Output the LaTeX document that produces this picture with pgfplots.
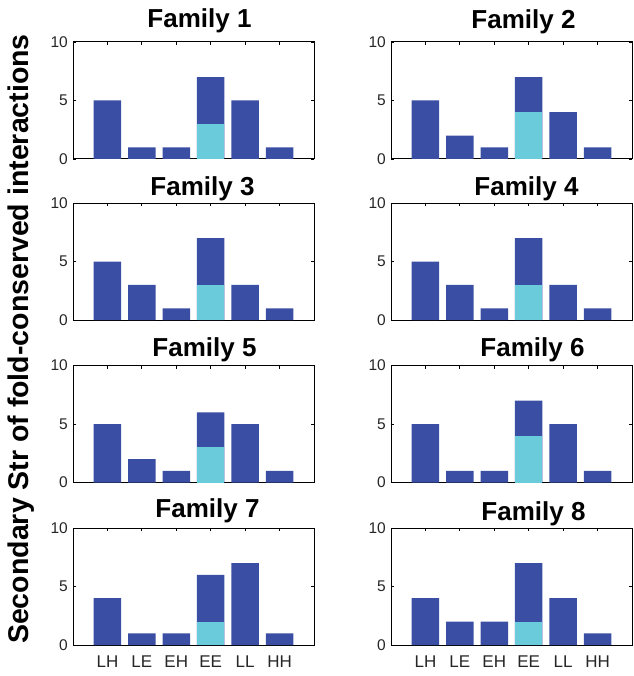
\documentclass[border=0pt]{standalone}
\usepackage{pgfplots}
\pgfplotsset{compat=1.18}
\usepackage{fontspec}
\setmainfont{Liberation Sans}
\definecolor{barblue}{RGB}{58,79,163}
\definecolor{barcyan}{RGB}{106,203,218}
\pgfplotsset{
 famaxis/.style={
  scale only axis, width=241pt, height=117pt, anchor=north west,
  xmin=-1, xmax=6, ymin=0, ymax=10,
  ytick={0,5,10}, xtick={0,...,5},
  tick align=inside, tick pos=both, major tick length=3pt,
  axis line style={line width=1pt},
  every tick/.style={line width=0.8pt, black},
  /pgf/number format/assume math mode=true,
  yticklabel style={font=\fontsize{15.5}{15.5}\selectfont, text=black!85, inner sep=0pt, xshift=-5pt},
  xticklabels={},
  xticklabel style={font=\fontsize{17}{17}\selectfont, text=black!85, inner sep=0pt, anchor=north, yshift=-11pt},
  title style={font=\fontsize{26}{26}\selectfont\bfseries, at={(0.5,1)}, anchor=base},
 },
}
\newcommand\famplot[8]{%
\begin{axis}[famaxis, at={(#1pt,-#2pt)}, title={#3}, title style={xshift=#4pt, yshift=#5pt}, #8]
\addplot[ybar, bar width=0.8, bar shift=0pt, fill=barblue, draw=none] coordinates {#6};
\addplot[ybar, bar width=0.8, bar shift=0pt, fill=barcyan, draw=none] coordinates {(3,#7)};
\end{axis}}
\begin{document}
\begin{tikzpicture}
\useasboundingbox (0pt,-676pt) rectangle (633pt,0pt);
\famplot{73}{42}{Family 1}{6}{8.5}{(0,5) (1,1) (2,1) (3,7) (4,5) (5,1)}{3}{}
\famplot{391}{42}{Family 2}{12}{7}{(0,5) (1,2) (2,1) (3,7) (4,4) (5,1)}{4}{}
\famplot{73}{203}{Family 3}{9}{1.5}{(0,5) (1,3) (2,1) (3,7) (4,3) (5,1)}{3}{}
\famplot{391}{203}{Family 4}{15}{1.5}{(0,5) (1,3) (2,1) (3,7) (4,3) (5,1)}{3}{}
\famplot{73}{365.5}{Family 5}{11}{3}{(0,5) (1,2) (2,1) (3,6) (4,5) (5,1)}{3}{}
\famplot{391}{365.5}{Family 6}{21}{3}{(0,5) (1,1) (2,1) (3,7) (4,5) (5,1)}{4}{}
\famplot{73}{528}{Family 7}{14}{4.5}{(0,4) (1,1) (2,1) (3,6) (4,7) (5,1)}{2}{xticklabels={LH,LE,EH,EE,LL,HH}}
\famplot{391}{528}{Family 8}{22}{1.5}{(0,4) (1,2) (2,2) (3,7) (4,4) (5,1)}{2}{xticklabels={LH,LE,EH,EE,LL,HH}}
\node[rotate=90, font=\fontsize{28.5}{28.5}\selectfont\bfseries] at (21.5pt,-339pt) {Secondary Str of fold-conserved interactions};
\end{tikzpicture}
\end{document}
